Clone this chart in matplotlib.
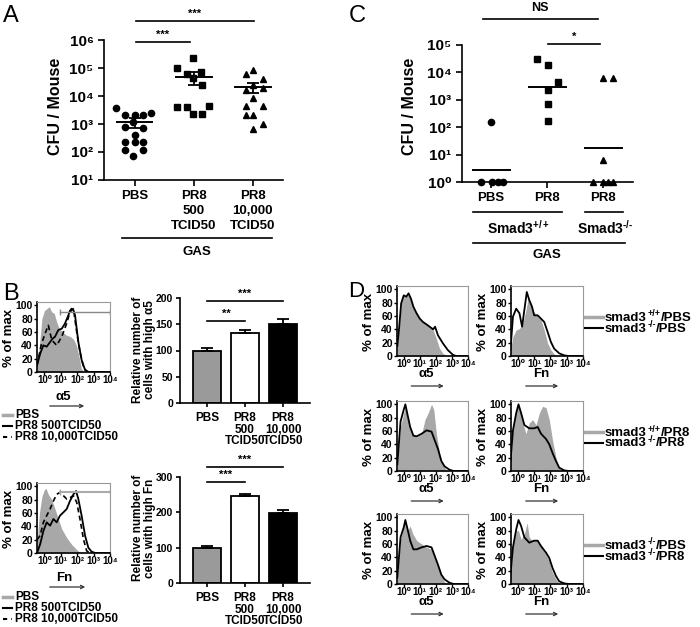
import matplotlib
matplotlib.use('Agg')
import matplotlib.pyplot as plt
from matplotlib.lines import Line2D
from matplotlib.patches import FancyArrowPatch
import numpy as np

plt.rcParams['font.family'] = ['Liberation Sans', 'DejaVu Sans']
plt.rcParams['font.weight'] = 'bold'
plt.rcParams['axes.labelweight'] = 'bold'
plt.rcParams['mathtext.fontset'] = 'custom'
plt.rcParams['mathtext.rm'] = 'Liberation Sans:weight=bold'
plt.rcParams['mathtext.bf'] = 'Liberation Sans:weight=bold'
plt.rcParams['mathtext.it'] = 'Liberation Sans:weight=bold'
plt.rcParams['mathtext.default'] = 'bf'
plt.rcParams['axes.linewidth'] = 1.2

# ---- panel A: CFU per mouse ----
a_cats = ['PBS', 'PR8\n500\nTCID50', 'PR8\n10,000\nTCID50']
a_pbs_dx = [-0.31, -0.17, 0, 0.14, 0.28, -0.03, -0.17, 0.14, 0, -0.17, 0, 0.14, -0.17, 0.14, -0.03]
a_pbs = [3600, 2100, 2100, 2100, 2500, 1200, 800, 700, 410, 235, 235, 235, 120, 120, 72]
a_500_dx = [-0.02, -0.29, -0.12, 0.12, -0.02, 0.14, -0.29, -0.12, 0.26, -0.02, 0.14]
a_500 = [234000, 98000, 59000, 74000, 43000, 25000, 4000, 4000, 4400, 2300, 2300]
a_10k_dx = [0.01, -0.12, 0.17, 0.01, -0.12, 0.17, 0.01, -0.12, 0.17, 0.01, -0.12, 0.17, 0.01]
a_10k = [85000, 62000, 41000, 25000, 16000, 20000, 8300, 4400, 4400, 2100, 2100, 1000, 650]
a_mean = [1150, 49000, 21000]
a_sem = [430, 24000, 8000]

# ---- panel C: Smad3 ----
c_cats = ['PBS', 'PR8', 'PR8']
c_pbs_dx = [0, -0.18, 0.01, 0.12, 0.21]
c_pbs = [160, 1, 1, 1, 1]
c_pr8_dx = [-0.18, 0.01, 0.19, 0.01, 0.01, 0.01]
c_pr8 = [30000, 18600, 4600, 2240, 675, 170]
c_ko_dx = [0, 0.18, 0, -0.19, 0, 0.09, 0.18]
c_ko = [6000, 6000, 6.6, 1, 1, 1, 1]
c_mean = [2.7, 3000, 17]

# ---- panel B: bars ----
b_cats = ['PBS', 'PR8\n500\nTCID50', 'PR8\n10,000\nTCID50']
b_a5_bar = [100, 134, 150]
b_a5_err = [5, 5, 10]
b_fn_bar = [100, 247, 197]
b_fn_err = [5, 5, 9]
bar_colors = ['#9a9a9a', 'white', 'black']

# ---- panel B: histograms (x in log10 units) ----
b_a5_x_pbs = [-0.45, -0.3, -0.15, 0.0, 0.15, 0.3, 0.45, 0.6, 0.75, 0.9, 1.05, 1.2, 1.35, 1.5, 1.65, 1.8, 1.95, 2.1, 2.25, 2.4, 2.55, 4.0]
b_a5_pbs = [8, 40, 80, 92, 95, 98, 90, 88, 75, 65, 62, 58, 55, 54, 52, 48, 40, 25, 5, 1, 0, 0]
b_a5_x_500 = [-0.45, -0.25, -0.06, 0.14, 0.35, 0.5, 0.65, 0.85, 1.06, 1.26, 1.46, 1.56, 1.66, 1.77, 1.87, 2.07, 2.27, 2.48, 2.7, 4.0]
b_a5_500 = [10, 28, 40, 38, 45, 50, 53, 63, 65, 73, 85, 92, 95, 93, 85, 45, 18, 3, 0, 0]
b_a5_x_10k = [-0.45, -0.2, 0.0, 0.24, 0.45, 0.75, 1.06, 1.36, 1.56, 1.77, 1.97, 2.17, 2.38, 2.6, 4.0]
b_a5_10k = [10, 40, 55, 70, 48, 40, 53, 73, 90, 95, 60, 30, 8, 0, 0]

b_fn_x_pbs = [-0.45, -0.3, -0.15, 0.0, 0.1, 0.24, 0.45, 0.65, 0.85, 1.06, 1.36, 1.66, 1.97, 2.17, 2.4, 4.0]
b_fn_pbs = [15, 60, 85, 95, 97, 88, 80, 66, 51, 36, 23, 13, 5, 1, 0, 0]
b_fn_x_500 = [-0.45, -0.26, -0.06, 0.14, 0.35, 0.55, 0.75, 0.95, 1.16, 1.36, 1.56, 1.77, 1.93, 2.07, 2.27, 2.48, 2.68, 2.88, 3.1, 4.0]
b_fn_500 = [0, 13, 33, 46, 41, 51, 46, 56, 61, 66, 78, 88, 93, 81, 56, 26, 8, 2, 0, 0]
b_fn_x_10k = [-0.45, -0.26, -0.06, 0.14, 0.35, 0.55, 0.75, 0.95, 1.16, 1.36, 1.56, 1.77, 1.97, 2.17, 2.38, 2.58, 2.8, 4.0]
b_fn_10k = [20, 26, 46, 56, 66, 78, 88, 91, 86, 81, 83, 86, 76, 51, 21, 3, 0, 0]
gate = [0.96, 4.0]

# ---- panel D: histograms ----
d1_a5_x_wt = [-0.4, -0.3, -0.16, 0.0, 0.16, 0.3, 0.45, 0.6, 0.8, 1.0, 1.2, 1.5, 1.83, 2.03, 2.23, 2.44, 2.64, 4.0]
d1_a5_wt = [15, 39, 79, 91, 89, 94, 86, 74, 64, 56, 51, 46, 39, 26, 11, 4, 0.5, 0]
d1_a5_x_ko = [-0.4, -0.3, -0.16, 0.0, 0.16, 0.3, 0.45, 0.6, 0.8, 1.0, 1.2, 1.5, 1.83, 1.95, 2.13, 2.44, 2.74, 3.05, 3.25, 4.0]
d1_a5_ko = [15, 39, 79, 91, 89, 94, 86, 74, 64, 56, 51, 46, 40, 44, 31, 19, 9, 2, 0, 0]
d1_fn_x_wt = [-0.45, -0.3, -0.1, 0.1, 0.3, 0.5, 0.65, 0.8, 1.0, 1.22, 1.42, 1.62, 1.83, 2.03, 2.23, 2.45, 4.0]
d1_fn_wt = [10, 29, 39, 41, 49, 69, 89, 76, 66, 59, 54, 39, 19, 9, 3, 0, 0]
d1_fn_x_ko = [-0.45, -0.3, -0.1, 0.1, 0.26, 0.4, 0.55, 0.7, 0.87, 1.0, 1.22, 1.42, 1.62, 1.83, 2.03, 2.23, 2.54, 2.84, 3.1, 4.0]
d1_fn_ko = [10, 59, 71, 64, 44, 69, 96, 84, 74, 61, 61, 56, 51, 36, 21, 11, 4, 1, 0, 0]

d2_a5_x_wt = [-0.4, -0.2, 0.0, 0.1, 0.24, 0.4, 0.57, 0.81, 1.12, 1.32, 1.52, 1.73, 1.87, 2.03, 2.23, 2.44, 2.64, 2.85, 4.0]
d2_a5_wt = [10, 66, 87, 97, 82, 64, 53, 51, 56, 77, 87, 100, 92, 56, 27, 9, 2, 0, 0]
d2_a5_x_ko = [-0.4, -0.2, 0.0, 0.1, 0.24, 0.4, 0.6, 0.81, 1.12, 1.42, 1.73, 1.93, 2.13, 2.34, 2.54, 2.84, 3.1, 4.0]
d2_a5_ko = [10, 74, 92, 100, 84, 66, 53, 52, 56, 61, 59, 46, 33, 15, 7, 2, 0, 0]
d2_fn_x_wt = [-0.45, -0.3, -0.14, 0.0, 0.14, 0.3, 0.5, 0.7, 0.91, 1.12, 1.32, 1.52, 1.73, 1.93, 2.13, 2.34, 2.54, 2.75, 4.0]
d2_fn_wt = [10, 66, 87, 97, 92, 72, 56, 72, 77, 69, 87, 97, 95, 77, 46, 20, 4, 0, 0]
d2_fn_x_ko = [-0.45, -0.3, -0.1, 0.04, 0.2, 0.4, 0.7, 1.0, 1.22, 1.42, 1.73, 1.93, 2.13, 2.34, 2.54, 2.84, 3.1, 4.0]
d2_fn_ko = [15, 61, 87, 100, 87, 69, 64, 64, 66, 56, 48, 40, 27, 15, 5, 1, 0, 0]

d3_a5_x_pbs = [-0.4, -0.2, 0.0, 0.1, 0.24, 0.4, 0.57, 0.81, 1.12, 1.42, 1.73, 1.93, 2.13, 2.34, 2.54, 2.75, 4.0]
d3_a5_pbs = [10, 67, 85, 95, 80, 87, 75, 65, 60, 55, 52, 44, 27, 12, 3, 0, 0]
d3_a5_x_pr8 = [-0.4, -0.2, 0.0, 0.1, 0.24, 0.4, 0.6, 0.81, 1.12, 1.42, 1.73, 1.93, 2.13, 2.34, 2.54, 2.84, 3.1, 4.0]
d3_a5_pr8 = [10, 70, 85, 96, 82, 65, 52, 52, 55, 57, 55, 42, 29, 14, 7, 2, 0, 0]
d3_fn_x_pbs = [-0.45, -0.3, -0.1, 0.04, 0.2, 0.4, 0.57, 0.7, 0.91, 1.12, 1.32, 1.52, 1.73, 1.93, 2.13, 2.34, 2.54, 2.75, 4.0]
d3_fn_pbs = [10, 60, 80, 80, 67, 75, 92, 70, 65, 67, 62, 52, 44, 34, 17, 7, 1, 0, 0]
d3_fn_x_pr8 = [-0.45, -0.3, -0.1, 0.04, 0.2, 0.4, 0.7, 1.0, 1.22, 1.42, 1.73, 1.93, 2.13, 2.34, 2.54, 2.84, 3.1, 4.0]
d3_fn_pr8 = [15, 55, 82, 96, 87, 70, 62, 65, 65, 57, 47, 39, 24, 12, 4, 1, 0, 0]

WT = '$^{+/+}$'
KO = '$^{\u2010/\u2010}$'
# legend entries: (base, superscript, tail)
d_legends = [(('smad3', '+/+', '/PBS'), ('smad3', '-/-', '/PBS')),
             (('smad3', '+/+', '/PR8'), ('smad3', '-/-', '/PR8')),
             (('smad3', '-/-', '/PBS'), ('smad3', '-/-', '/PR8'))]

SUP = '⁰¹²³⁴⁵⁶'
GRAY = '#a8a8a8'
W, H = 700, 627
fig = plt.figure(figsize=(7, 6.27), dpi=100)
renderer = fig.canvas.get_renderer()


def box(l, t, r, b):
    return [l / W, 1 - b / H, (r - l) / W, (b - t) / H]


def ftext(x, y, s, **kw):
    kw.setdefault('ha', 'center')
    kw.setdefault('va', 'center')
    return fig.text(x / W, 1 - y / H, s, **kw)


def sup_text(x, y, parts, fs):
    # base text, small raised part, tail; y is the baseline in pixels
    base, sup, tail = parts
    t = ftext(x, y, base, ha='left', va='baseline', fontsize=fs)
    x = t.get_window_extent(renderer).x1
    t = ftext(x + 0.5, y - 4.5, sup, ha='left', va='baseline', fontsize=fs * 0.68)
    x = t.get_window_extent(renderer).x1
    ftext(x + 0.5, y, tail, ha='left', va='baseline', fontsize=fs)


def fline(x0, x1, y0, y1=None, **kw):
    if y1 is None:
        y1 = y0
    kw.setdefault('color', 'black')
    kw.setdefault('lw', 1.2)
    fig.add_artist(Line2D([x0 / W, x1 / W], [1 - y0 / H, 1 - y1 / H], transform=fig.transFigure, **kw))


def farrow(x0, x1, y):
    fig.add_artist(FancyArrowPatch((x0 / W, 1 - y / H), (x1 / W, 1 - y / H), transform=fig.transFigure,
                                   arrowstyle='->', mutation_scale=6, lw=0.9, color='#333333'))


def sig(x0, x1, y, s):
    fline(x0, x1, y)
    ftext((x0 + x1) / 2, y - 2, s, va='bottom', fontsize=8)


def dot_axes(rect, xmax, ymin, ymax, cats):
    ax = fig.add_axes(rect)
    ax.set_yscale('log')
    ax.set_ylim(ymin, ymax)
    ax.set_xlim(-0.52, xmax)
    for s in ['top', 'right']:
        ax.spines[s].set_visible(False)
    ax.set_xticks(range(3))
    ax.set_xticklabels(cats, fontsize=9.5, linespacing=1.3, fontweight='bold')
    dec = range(int(np.log10(ymin)), int(np.log10(ymax)) + 1)
    ax.set_yticks([10.0 ** k for k in dec])
    ax.set_yticklabels(['10' + SUP[k] for k in dec], fontsize=11, fontweight='bold')
    ax.minorticks_off()
    ax.tick_params(length=4, width=1.2)
    return ax


# panel A
axA = dot_axes(box(104, 40, 283, 180), 2.51, 10, 1e6, a_cats)
mk = dict(color='black', ms=4.5, ls='none', clip_on=False)
axA.plot(np.array(a_pbs_dx), a_pbs, 'o', **mk)
axA.plot(1 + np.array(a_500_dx), a_500, 's', **mk)
axA.plot(2 + np.array(a_10k_dx), a_10k, '^', **mk)
for i in range(3):
    axA.plot([i - 0.3, i + 0.3], [a_mean[i], a_mean[i]], color='black', lw=1.4)
axA.errorbar(range(3), a_mean, yerr=a_sem, fmt='none', ecolor='black', elinewidth=1.3, capsize=4, capthick=1.3)
ftext(55, 106, 'CFU / Mouse', rotation=90, fontsize=11.5)
ftext(3, 22, 'A', ha='left', va='baseline', fontsize=17, fontweight='normal')
sig(136, 254, 21, '***')
sig(136, 190, 42, '***')
fline(122, 272, 238)
ftext(197, 252, 'GAS', fontsize=9.5)

# panel C
axC = dot_axes(box(462, 45, 633, 182), 2.53, 1, 1e5, c_cats)
axC.plot(np.array(c_pbs_dx), c_pbs, 'o', **mk)
axC.plot(1 + np.array(c_pr8_dx), c_pr8, 's', **mk)
axC.plot(2 + np.array(c_ko_dx), c_ko, '^', **mk)
for i in range(3):
    axC.plot([i - 0.33, i + 0.33], [c_mean[i], c_mean[i]], color='black', lw=1.4)
ftext(409, 106, 'CFU / Mouse', rotation=90, fontsize=11.5)
ftext(349, 22, 'C', ha='left', va='baseline', fontsize=17, fontweight='normal')
fline(483, 598, 19)
ftext(540, 8, 'NS', fontsize=9)
sig(548, 600, 44, '*')
fline(473, 562, 212)
ftext(518, 228, 'Smad3' + WT, fontsize=10)
fline(585, 623, 212)
ftext(605, 228, 'Smad3' + KO, fontsize=10)
fline(473, 625, 243)
ftext(547, 255, 'GAS', fontsize=9.5)


# panel B bars
def bar_axes(rect, vals, errs, top, step):
    ax = fig.add_axes(rect)
    ax.bar(range(3), vals, width=0.72, color=bar_colors, edgecolor='black', lw=1.3)
    ax.errorbar(range(3), vals, yerr=[[0, 0, 0], errs], fmt='none', ecolor='black',
                elinewidth=1.3, capsize=4, capthick=1.3)
    ax.set_xlim(-0.71, 2.71)
    ax.set_ylim(0, top)
    ax.set_yticks(np.arange(0, top + 1, step))
    for s in ['top', 'right']:
        ax.spines[s].set_visible(False)
    ax.set_xticks(range(3))
    ax.set_xticklabels(b_cats, fontsize=8.5, linespacing=0.95, fontweight='bold')
    ax.tick_params(axis='y', labelsize=7.5, length=3, width=1.2, pad=2)
    ax.tick_params(axis='x', length=3, width=1.2)
    return ax


bar_axes(box(180, 298, 310, 403), b_a5_bar, b_a5_err, 200, 50)
ftext(144, 350, 'Relative number of\ncells with high α5', rotation=90, fontsize=8.5, linespacing=1.1)
sig(207, 283, 301, '***')
sig(207, 245, 321, '**')
bar_axes(box(180, 477, 310, 583), b_fn_bar, b_fn_err, 300, 100)
ftext(144, 528, 'Relative number of\ncells with high Fn', rotation=90, fontsize=8.5, linespacing=1.1)
sig(207, 283, 467, '***')
sig(207, 245, 482, '***')
ftext(3, 300, 'B', ha='left', va='baseline', fontsize=17, fontweight='normal')


def hist_axes(l, r, bottom, xmin):
    ax = fig.add_axes(box(l, bottom - 70, r, bottom))
    ax.set_xlim(xmin, 4.0)
    ax.set_ylim(0, 105)
    ax.set_yticks(range(0, 101, 20))
    ax.set_xticks(range(5))
    ax.set_xticklabels(['10' + SUP[k] for k in range(5)], fontsize=7, fontweight='bold')
    ax.tick_params(axis='y', labelsize=7.5, length=2, width=1, pad=1)
    ax.tick_params(axis='x', length=2, width=1, pad=0.5)
    for s in ['top', 'right']:
        ax.spines[s].set_color('#999999')
        ax.spines[s].set_linewidth(0.8)
    ftext(l - 28, bottom - 34, '% of max', rotation=90, fontsize=9.5)
    return ax


# B histograms
axh = hist_axes(37, 110, 372, -0.45)
axh.fill_between(b_a5_x_pbs, b_a5_pbs, color=GRAY, lw=0)
axh.plot(b_a5_x_500, b_a5_500, color='black', lw=1.3)
axh.plot(b_a5_x_10k, b_a5_10k, color='black', lw=1.2, ls=(0, (3, 2)))
axh.plot(gate, [90, 90], color='#888888', lw=1, marker='|', ms=4)
ftext(63, 397, 'α5', fontsize=9.5)
farrow(47, 87, 406)

axh = hist_axes(37, 110, 553, -0.45)
axh.fill_between(b_fn_x_pbs, b_fn_pbs, color=GRAY, lw=0)
axh.plot(b_fn_x_500, b_fn_500, color='black', lw=1.3)
axh.plot(b_fn_x_10k, b_fn_10k, color='black', lw=1.2, ls=(0, (3, 2)))
axh.plot(gate, [91, 91], color='#aaaaaa', lw=1.5, marker='|', ms=4)
ftext(64, 578, 'Fn', fontsize=9.5)
farrow(47, 88, 587)

for y0 in [415, 597]:
    fline(3, 12, y0, color=GRAY, lw=2.5)
    ftext(15, y0, 'PBS', ha='left', fontsize=8.5)
    fline(3, 12, y0 + 11, lw=1.5)
    ftext(15, y0 + 11, 'PR8 500TCID50', ha='left', fontsize=8.5)
    fline(3, 12, y0 + 22, lw=1.5, ls=(0, (2, 2)))
    ftext(15, y0 + 22, 'PR8 10,000TCID50', ha='left', fontsize=8.5)

# panel D
ftext(348, 297, 'D', ha='left', va='baseline', fontsize=16, fontweight='normal')
d_rows = [
    (356, (d1_a5_x_wt, d1_a5_wt, d1_a5_x_ko, d1_a5_ko), (d1_fn_x_wt, d1_fn_wt, d1_fn_x_ko, d1_fn_ko)),
    (471, (d2_a5_x_wt, d2_a5_wt, d2_a5_x_ko, d2_a5_ko), (d2_fn_x_wt, d2_fn_wt, d2_fn_x_ko, d2_fn_ko)),
    (584, (d3_a5_x_pbs, d3_a5_pbs, d3_a5_x_pr8, d3_a5_pr8), (d3_fn_x_pbs, d3_fn_pbs, d3_fn_x_pr8, d3_fn_pr8)),
]
for k, (bottom, a5, fn) in enumerate(d_rows):
    for (l, r), curves, lab in [((397, 468), a5, 'α5'), ((511, 583), fn, 'Fn')]:
        ax = hist_axes(l, r, bottom, -0.42)
        ax.fill_between(curves[0], curves[1], color=GRAY, lw=0)
        ax.plot(curves[2], curves[3], color='black', lw=1.3)
        cx = (l + r) / 2 - 6
        ftext(cx, bottom + 18, lab, fontsize=9.5)
        farrow(cx - 18, cx + 20, bottom + 30)
    ly = bottom - 39
    fline(585, 603, ly, color=GRAY, lw=2.5)
    sup_text(605, ly + 4, d_legends[k][0], 9.5)
    fline(585, 603, ly + 10.5, lw=1.5)
    sup_text(605, ly + 14.5, d_legends[k][1], 9.5)

fig.savefig('out.png', dpi=100)
